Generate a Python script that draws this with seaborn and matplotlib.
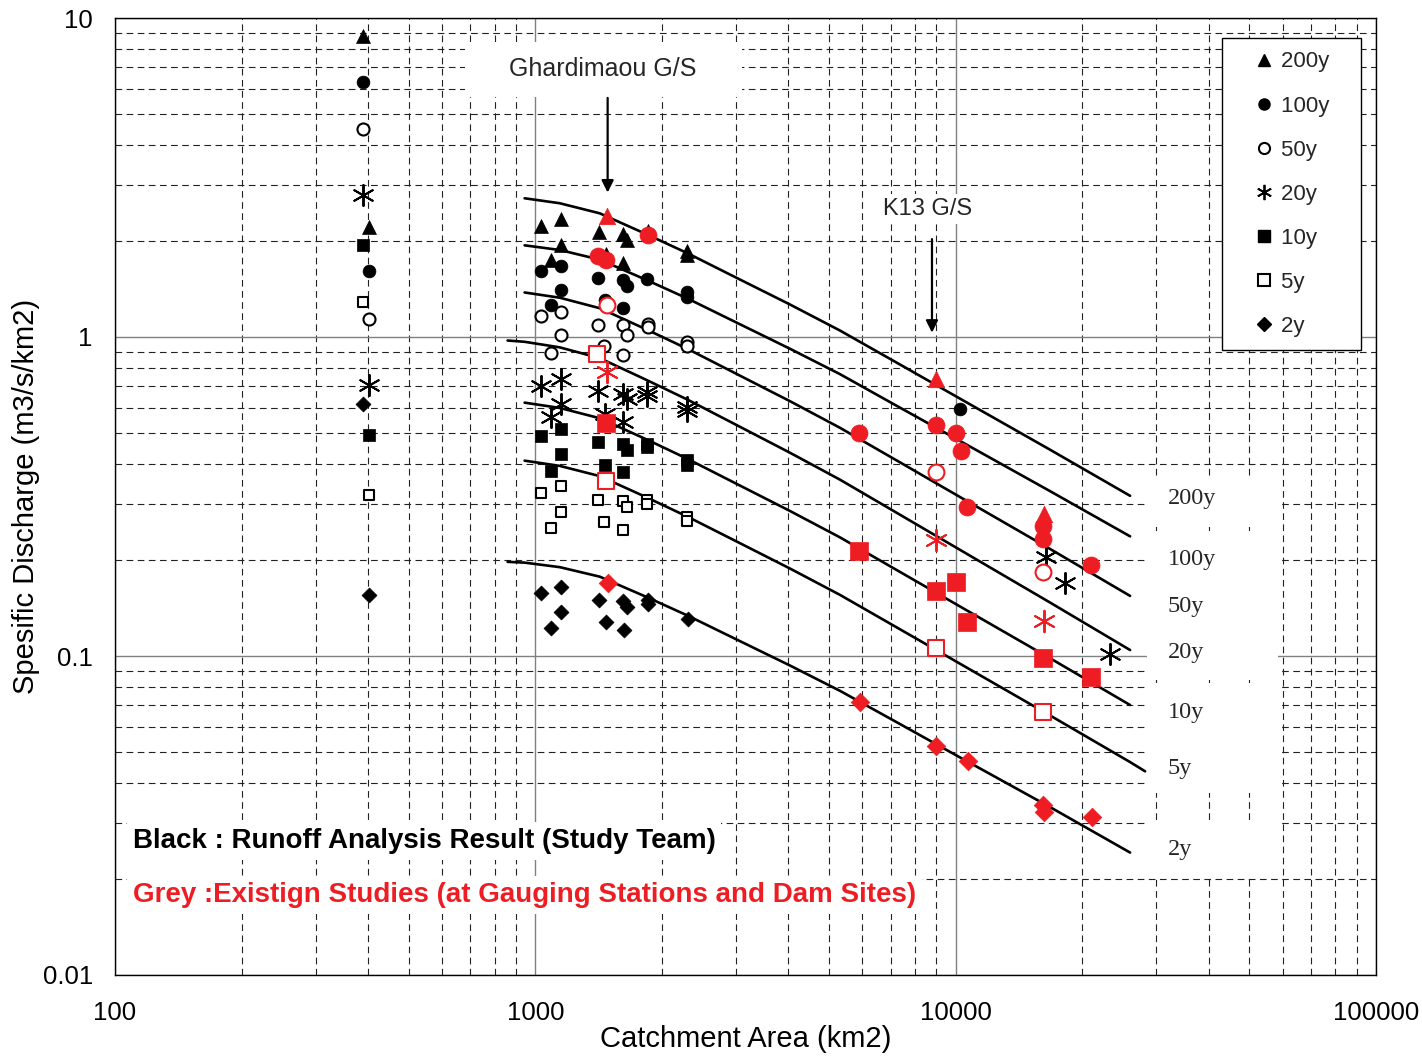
import numpy as np
import pandas as pd
import matplotlib
matplotlib.use("Agg")
import matplotlib.pyplot as plt
import seaborn as sns
from matplotlib.lines import Line2D
from matplotlib.patches import Rectangle
from matplotlib.ticker import LogLocator, FixedLocator, FixedFormatter, NullFormatter

sns.set_theme(style="white")
plt.rcParams["font.family"] = ["Liberation Sans", "DejaVu Sans"]

RED = "#EE1D23"
periods = ["200y", "100y", "50y", "20y", "10y", "5y", "2y"]

# ---------------- envelope curves ----------------
curve_x = [859, 943, 1143, 1423, 1841, 2305, 3065, 4032, 5304, 7370, 10238, 16770, 26000, 28230]
nan = np.nan
curve_200y = [nan, 2.722, 2.626, 2.442, 2.098, 1.829, 1.515, 1.265, 1.048, 0.820, 0.641, 0.4433, 0.3178, nan]
curve_100y = [nan, 1.938, 1.874, 1.748, 1.508, 1.319, 1.097, 0.919, 0.765, 0.6006, 0.4722, 0.3287, 0.2372, nan]
curve_50y = [nan, 1.379, 1.328, 1.231, 1.055, 0.917, 0.757, 0.6295, 0.5194, 0.4047, 0.3151, 0.2166, 0.1543, nan]
curve_20y = [0.975, 0.966, 0.928, 0.8586, 0.7328, 0.6357, 0.5233, 0.4339, 0.3572, 0.2773, 0.2152, 0.1471, 0.1044, nan]
curve_10y = [nan, 0.6226, 0.5993, 0.5564, 0.4771, 0.4145, 0.3424, 0.2850, 0.2355, 0.1835, 0.1430, 0.0984, 0.0702, nan]
curve_5y = [nan, 0.4096, 0.3944, 0.3664, 0.3141, 0.2731, 0.2259, 0.1881, 0.1555, 0.1213, 0.0946, 0.0651, 0.0465, 0.0435]
curve_2y = [0.1973, 0.1962, 0.1899, 0.1773, 0.1530, 0.1338, 0.1114, 0.0934, 0.0778, 0.0612, 0.0481, 0.0336, 0.0242, nan]
curves = dict(zip(periods, [curve_200y, curve_100y, curve_50y, curve_20y, curve_10y, curve_5y, curve_2y]))

# ---------------- Black: runoff analysis result (study team) ----------------
bk_200_x = [388, 403, 1032, 1149, 1415, 1614, 1650, 1149, 1087, 1470, 1614, 2292, 2292, 1851]
bk_200_y = [8.78, 2.207, 2.223, 2.338, 2.129, 2.098, 2.009, 1.938, 1.739, 1.816, 1.701, 1.855, 1.803, 2.144]
bk_100_x = [388, 403, 1029, 1149, 1149, 1087, 1407, 1614, 1650, 1462, 1614, 1841, 2292, 2292, 10238]
bk_100_y = [6.297, 1.606, 1.606, 1.665, 1.400, 1.256, 1.526, 1.504, 1.440, 1.302, 1.229, 1.515, 1.379, 1.331, 0.5963]
bk_50_x = [388, 403, 1029, 1149, 1149, 1087, 1407, 1614, 1650, 1454, 1614, 1851, 1851, 2292, 2292]
bk_50_y = [4.482, 1.135, 1.160, 1.202, 1.011, 0.894, 1.094, 1.087, 1.018, 0.934, 0.881, 1.102, 1.071, 0.968, 0.940]
bk_20_x = [388, 403, 1029, 1149, 1149, 1087, 1407, 1614, 1650, 1462, 1614, 1841, 1841, 2292, 2292, 16406, 18206, 23300]
bk_20_y = [2.782, 0.7093, 0.7042, 0.7407, 0.6181, 0.5627, 0.6792, 0.6646, 0.6410, 0.5752, 0.5429, 0.6743, 0.6553, 0.6050, 0.5879, 0.2046, 0.1695, 0.1015]
bk_10_x = [388, 403, 1029, 1149, 1149, 1087, 1407, 1614, 1650, 1462, 1614, 1841, 1841, 2292, 2292]
bk_10_y = [1.938, 0.4941, 0.4905, 0.5160, 0.4307, 0.3808, 0.4697, 0.4630, 0.4433, 0.3977, 0.3781, 0.4630, 0.4531, 0.4125, 0.3977]
bk_5_x = [388, 403, 1029, 1149, 1149, 1087, 1407, 1614, 1650, 1454, 1614, 1841, 1841, 2292, 2292]
bk_5_y = [1.283, 0.3201, 0.3248, 0.3417, 0.2832, 0.2522, 0.3088, 0.3066, 0.2936, 0.2634, 0.2486, 0.3088, 0.3000, 0.2732, 0.2653]
bk_2_x = [388, 403, 1032, 1149, 1149, 1090, 1415, 1614, 1654, 1470, 1623, 1851, 1851, 2305]
bk_2_y = [0.6181, 0.1554, 0.1577, 0.1647, 0.1374, 0.1224, 0.1499, 0.1488, 0.1425, 0.1279, 0.1207, 0.1499, 0.1456, 0.1307]

# ---------------- Red: existing studies ----------------
rd_200_x = [1479, 9002, 16229]
rd_200_y = [2.390, 0.7407, 0.2791]
rd_100_x = [1407, 1470, 1851, 5902, 8977, 10044, 10277, 10622, 16142, 16142, 20990]
rd_100_y = [1.789, 1.739, 2.083, 0.5013, 0.5313, 0.5013, 0.4401, 0.2936, 0.2560, 0.2330, 0.1931]
rd_50_x = [1479, 8977, 16142]
rd_50_y = [1.256, 0.3781, 0.1835]
rd_20_x = [1479, 9002, 16229]
rd_20_y = [0.7791, 0.2313, 0.1288]
rd_10_x = [1470, 5902, 8977, 10016, 10622, 16142, 20990]
rd_10_y = [0.5390, 0.2137, 0.1600, 0.1707, 0.1279, 0.0986, 0.0859]
rd_5_x = [1403, 1470, 8977, 16142]
rd_5_y = [0.8876, 0.3543, 0.1059, 0.0667]
rd_2_x = [1486, 5918, 9002, 10681, 16142, 16229, 21074]
rd_2_y = [0.1695, 0.0717, 0.0522, 0.0468, 0.0340, 0.0324, 0.0312]

black = {"200y": (bk_200_x, bk_200_y), "100y": (bk_100_x, bk_100_y), "50y": (bk_50_x, bk_50_y),
         "20y": (bk_20_x, bk_20_y), "10y": (bk_10_x, bk_10_y), "5y": (bk_5_x, bk_5_y), "2y": (bk_2_x, bk_2_y)}
red = {"200y": (rd_200_x, rd_200_y), "100y": (rd_100_x, rd_100_y), "50y": (rd_50_x, rd_50_y),
       "20y": (rd_20_x, rd_20_y), "10y": (rd_10_x, rd_10_y), "5y": (rd_5_x, rd_5_y), "2y": (rd_2_x, rd_2_y)}

rows = []
for src, dd in (("black", black), ("red", red)):
    for p, (xs, ys) in dd.items():
        for a, b in zip(xs, ys):
            rows.append((a, b, src, p))
pts = pd.DataFrame(rows, columns=["area", "q", "source", "period"])

crow = []
for p, ys in curves.items():
    for a, b in zip(curve_x, ys):
        if not np.isnan(b):
            crow.append((a, b, p))
cdf = pd.DataFrame(crow, columns=["area", "q", "period"])

# marker style per period: (marker, filled, size_black, size_red)
mstyle = {
    "200y": ("^", True, 100, 140),
    "100y": ("o", True, 85, 150),
    "50y": ("o", False, 75, 130),
    "20y": ((6, 2, 0), None, 230, 240),
    "10y": ("s", True, 80, 150),
    "5y": ("s", False, 62, 120),
    "2y": ("D", True, 58, 90),
}

fig = plt.figure(figsize=(14.22, 10.58), dpi=100)
ax = fig.add_axes([115 / 1422, 1 - 975 / 1058, 1261 / 1422, 957 / 1058])
ax.set_xscale("log")
ax.set_yscale("log")
ax.set_xlim(100, 100000)
ax.set_ylim(0.01, 10)

# curves
for p in periods:
    sub = cdf[cdf["period"] == p]
    sns.lineplot(data=sub, x="area", y="q", ax=ax, color="black", lw=1.9,
                 sort=False, estimator=None, zorder=3, legend=False)

# points
for src, col in (("black", "black"), ("red", RED)):
    for p in periods:
        sub = pts[(pts["source"] == src) & (pts["period"] == p)]
        m, filled, sb, sr = mstyle[p]
        s = sb if src == "black" else sr
        if filled is None:
            sns.scatterplot(data=sub, x="area", y="q", ax=ax, marker=m, s=s,
                            color=col, edgecolor=col, linewidth=1.4, zorder=4, legend=False)
        elif filled:
            sns.scatterplot(data=sub, x="area", y="q", ax=ax, marker=m, s=s,
                            color=col, edgecolor=col, linewidth=0.5, zorder=4, legend=False)
        else:
            sns.scatterplot(data=sub, x="area", y="q", ax=ax, marker=m, s=s,
                            facecolor="white", edgecolor=col, linewidth=1.5, zorder=4, legend=False)

# grid
ax.xaxis.set_major_locator(FixedLocator([100, 1000, 10000, 100000]))
ax.yaxis.set_major_locator(FixedLocator([0.01, 0.1, 1, 10]))
ax.xaxis.set_major_formatter(FixedFormatter(["100", "1000", "10000", "100000"]))
ax.yaxis.set_major_formatter(FixedFormatter(["0.01", "0.1", "1", "10"]))
ax.xaxis.set_minor_locator(LogLocator(base=10, subs=np.arange(2, 10)))
ax.yaxis.set_minor_locator(LogLocator(base=10, subs=np.arange(2, 10)))
ax.xaxis.set_minor_formatter(NullFormatter())
ax.yaxis.set_minor_formatter(NullFormatter())
ax.grid(which="major", color="#808080", ls="-", lw=1.0, zorder=0)
ax.grid(which="minor", color="#222222", ls=(0, (6, 4)), lw=0.8, zorder=0)
ax.set_axisbelow(True)
ax.tick_params(which="both", length=0, labelsize=18.5, colors="black")
ax.tick_params(axis="x", pad=19)
ax.tick_params(axis="y", pad=16)
for sp in ax.spines.values():
    sp.set_color("black")
    sp.set_linewidth(1.0)

ax.set_xlabel("Catchment Area (km2)", fontsize=21, labelpad=0, color="black")
ax.set_ylabel("Spesific Discharge (m3/s/km2)", fontsize=21, labelpad=2, color="black")

# white masks behind annotation texts (as in the original drawing)
mask_boxes = [
    (0.8184, 0.4681, 0.1039, 0.0530),
    (0.8184, 0.3083, 0.1039, 0.1536),
    (0.8184, 0.1902, 0.1039, 0.1149),
    (0.8184, 0.1034, 0.1039, 0.0585),
    (0.2776, 0.9175, 0.2197, 0.0570),
]
for (bx, by, bw, bh) in mask_boxes:
    ax.add_patch(Rectangle((bx, by), bw, bh, transform=ax.transAxes, facecolor="white",
                           edgecolor="none", zorder=2.5))

# curve labels
lab_y = [0.311, 0.2001, 0.1425, 0.1022, 0.0667, 0.0445, 0.02477]
for p, yv in zip(periods, lab_y):
    ax.text(32000, yv, p, fontsize=17.5, family=["Liberation Serif", "DejaVu Serif"],
            ha="left", va="center", zorder=5)

# station annotations
ax.text(1446, 6.9, "Ghardimaou G/S", fontsize=18, ha="center", va="center", zorder=5)
ax.annotate("", xy=(1486, 2.78), xytext=(1486, 5.73),
            arrowprops=dict(arrowstyle="-|>", color="black", lw=1.6, mutation_scale=18), zorder=5)
ax.text(8590, 2.52, "K13 G/S", fontsize=17, ha="center", va="center", zorder=5,
        bbox=dict(facecolor="white", edgecolor="none", pad=3))
ax.annotate("", xy=(8783, 1.011), xytext=(8783, 2.068),
            arrowprops=dict(arrowstyle="-|>", color="black", lw=1.6, mutation_scale=18), zorder=5)

ax.text(0.0143, 0.140, "Black : Runoff Analysis Result (Study Team)", transform=ax.transAxes,
        fontsize=20, fontweight="bold", color="black", ha="left", va="center", zorder=5,
        bbox=dict(facecolor="white", edgecolor="none", pad=4))
ax.text(0.0143, 0.0836, "Grey :Existign Studies (at Gauging Stations and Dam Sites)", transform=ax.transAxes,
        fontsize=20, fontweight="bold", color=RED, ha="left", va="center", zorder=5,
        bbox=dict(facecolor="white", edgecolor="none", pad=4))

# legend
handles = []
leg_m = {"200y": ("^", True), "100y": ("o", True), "50y": ("o", False), "20y": ((6, 2, 0), None),
         "10y": ("s", True), "5y": ("s", False), "2y": ("D", True)}
for p in periods:
    m, f = leg_m[p]
    if f is False:
        h = Line2D([], [], ls="none", marker=m, markersize=8, markerfacecolor="white",
                   markeredgecolor="black", markeredgewidth=1.5)
    elif f is None:
        h = Line2D([], [], ls="none", marker=m, markersize=11, color="black", markeredgewidth=1.3)
    else:
        h = Line2D([], [], ls="none", marker=m, markersize=8 if m != "D" else 7, color="black")
    handles.append(h)
leg_labels = [p + "   " for p in periods]
leg = ax.legend(handles, leg_labels, loc="upper right", bbox_to_anchor=(0.9881, 0.979),
                fontsize=16, frameon=True, fancybox=False, edgecolor="black", framealpha=1,
                labelspacing=1.04, handlelength=2.6, handletextpad=-0.55, borderpad=0.6,
                borderaxespad=0, numpoints=1)
leg.get_frame().set_linewidth(1.0)
leg.set_zorder(6)

fig.savefig("out.png", dpi=100, facecolor="white")
